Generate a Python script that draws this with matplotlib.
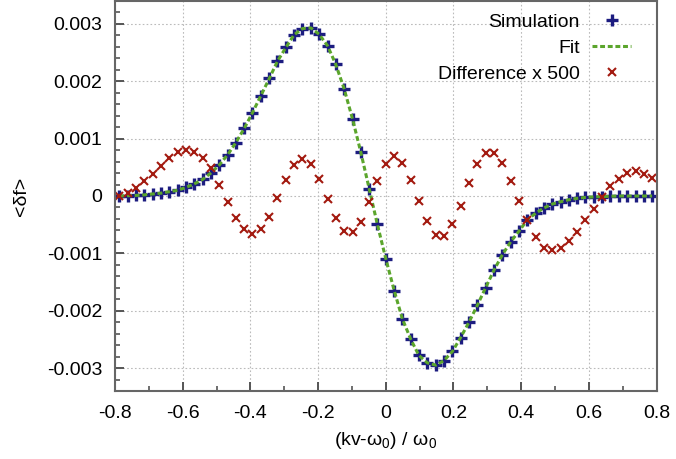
import numpy as np
import matplotlib
matplotlib.use("Agg")
from matplotlib import pyplot as plt
from matplotlib.ticker import AutoMinorLocator

plt.rcParams['font.family'] = ['Liberation Sans', 'DejaVu Sans']
plt.rcParams['font.size'] = 14
plt.rcParams['mathtext.default'] = 'regular'
plt.rcParams['axes.unicode_minus'] = False

# Data (y values in units of 1e-3)
x_vals = [-0.787, -0.763, -0.738, -0.713, -0.689, -0.664, -0.640, -0.615,
          -0.590, -0.566, -0.541, -0.517, -0.492, -0.467, -0.443, -0.418,
          -0.394, -0.369, -0.344, -0.320, -0.295, -0.271, -0.246, -0.221,
          -0.197, -0.172, -0.148, -0.123, -0.098, -0.074, -0.049, -0.025,
          0.0,
          0.025, 0.049, 0.074, 0.098, 0.123, 0.148, 0.172, 0.197,
          0.221, 0.246, 0.271, 0.295, 0.320, 0.344, 0.369, 0.394,
          0.418, 0.443, 0.467, 0.492, 0.517, 0.541, 0.566, 0.590,
          0.615, 0.640, 0.664, 0.689, 0.713, 0.738, 0.763, 0.787]

sim_y = [0.0, 0.005, 0.01, 0.02, 0.035, 0.05, 0.075, 0.10,
         0.15, 0.21, 0.29, 0.40, 0.54, 0.72, 0.93, 1.18,
         1.45, 1.75, 2.05, 2.35, 2.59, 2.81, 2.92, 2.93,
         2.82, 2.62, 2.30, 1.87, 1.34, 0.77, 0.13, -0.49,
         -1.09,
         -1.65, -2.14, -2.50, -2.78, -2.91, -2.95, -2.87, -2.71,
         -2.47, -2.20, -1.90, -1.60, -1.29, -1.03, -0.80, -0.61,
         -0.42, -0.30, -0.21, -0.14, -0.10, -0.065, -0.04, -0.025,
         -0.015, -0.01, -0.005, 0.0, 0.0, 0.0, 0.0, 0.0]

# fit agrees with the simulation to ~1e-6, so it follows the same values
fit_y = list(sim_y)

diff_y = [0.0, 0.05, 0.14, 0.26, 0.39, 0.53, 0.66, 0.76,
          0.81, 0.77, 0.67, 0.48, 0.19, -0.10, -0.38, -0.57,
          -0.66, -0.58, -0.36, -0.04, 0.28, 0.54, 0.65, 0.56,
          0.30, -0.05, -0.39, -0.61, -0.63, -0.45, -0.11, 0.27,
          0.56,
          0.69, 0.57, 0.28, -0.09, -0.44, -0.68, -0.69, -0.49,
          -0.17, 0.23, 0.56, 0.75, 0.75, 0.57, 0.27, -0.08,
          -0.42, -0.71, -0.90, -0.95, -0.91, -0.78, -0.62, -0.42,
          -0.22, -0.01, 0.17, 0.30, 0.40, 0.43, 0.39, 0.31]

xticks = [-0.8, -0.6, -0.4, -0.2, 0, 0.2, 0.4, 0.6, 0.8]
xtick_labels = ['-0.8', '-0.6', '-0.4', '-0.2', '0', '0.2', '0.4', '0.6', '0.8']
yticks = [-0.003, -0.002, -0.001, 0, 0.001, 0.002, 0.003]
ytick_labels = ['-0.003', '-0.002', '-0.001', '0', '0.001', '0.002', '0.003']

x = np.array(x_vals)
scale = 1e-3

fig = plt.figure(figsize=(6.76, 4.59), dpi=100)
ax = fig.add_axes([115 / 676, 68 / 459, 541.5 / 676, 390 / 459])

ax.plot(x, np.array(sim_y) * scale, linestyle='none', marker='+',
        markersize=8.5, markeredgewidth=2.4, color='#1c1c80', label='Simulation')
ax.plot(x, np.array(fit_y) * scale, linestyle=(0, (1.6, 0.9)), linewidth=2.2,
        color='#5ba52c', label='Fit')
ax.plot(x, np.array(diff_y) * scale, linestyle='none', marker='x',
        markersize=6.3, markeredgewidth=1.5, color='#a31a10', label='Difference x 500')

ax.set_xlim(-0.8, 0.8)
ax.set_ylim(-0.0034, 0.0034)
ax.set_xticks(xticks, xtick_labels)
ax.set_yticks(yticks, ytick_labels)
ax.xaxis.set_minor_locator(AutoMinorLocator(2))
ax.yaxis.set_minor_locator(AutoMinorLocator(5))
ax.tick_params(which='both', direction='in', color='#555555', top=False, right=False)
ax.tick_params(which='major', length=6.5, width=1.4)
ax.tick_params(which='minor', length=3.5, width=1.2)
ax.tick_params(axis='y', which='major', pad=9)
ax.tick_params(axis='x', which='major', pad=10)

for side in ['left', 'bottom', 'right', 'top']:
    ax.spines[side].set_color('#666666')
    ax.spines[side].set_linewidth(1.5)

ax.grid(True, which='major', linestyle=(0, (1.5, 2)), color='#bbbbbb', linewidth=0.8)
ax.set_axisbelow(True)

ax.set_xlabel('(kv-ω$_0$) / ω$_0$')
ax.xaxis.set_label_coords(0.5, -0.1)
ax.set_ylabel('<δf>')
ax.yaxis.set_label_coords(-0.157, 0.5)

ax.legend(loc='upper right', bbox_to_anchor=(0.953, 0.969), frameon=False,
          markerfirst=False, numpoints=1, handlelength=2.0, handletextpad=0.65,
          labelspacing=0.43, borderpad=0, borderaxespad=0)

fig.savefig('out.png', dpi=100)
